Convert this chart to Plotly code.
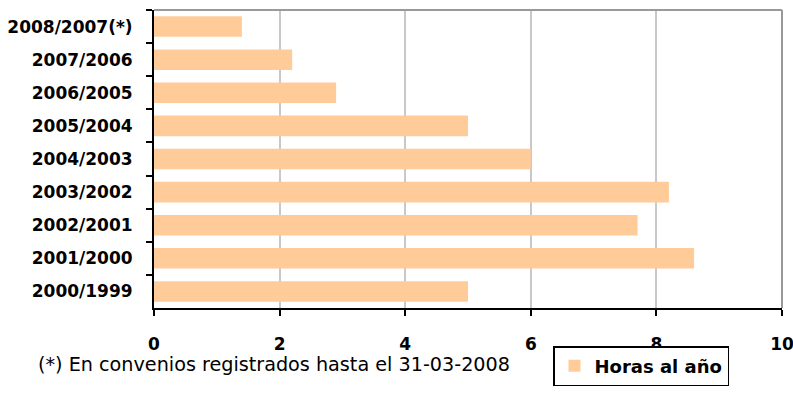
import plotly.graph_objects as go

categories = ["2008/2007(*)", "2007/2006", "2006/2005", "2005/2004", "2004/2003",
              "2003/2002", "2002/2001", "2001/2000", "2000/1999"]
horas = [1.4, 2.2, 2.9, 5.0, 6.0, 8.2, 7.7, 8.6, 5.0]
series_name = "Horas al año"
x_ticks = [0, 2, 4, 6, 8, 10]
footnote = "(*) En convenios registrados hasta el 31-03-2008"

fig = go.Figure()
fig.add_trace(go.Bar(
    y=categories, x=horas, orientation="h", name=series_name,
    marker=dict(color="#FFCC99", line=dict(width=0)),
    showlegend=True,
))

W, H = 793, 406
L, R, T, B = 154, 11, 10, 98
pw = W - L - R
ph = H - T - B

fig.update_layout(
    width=W, height=H,
    margin=dict(l=L, r=R, t=T, b=B, pad=0, autoexpand=False),
    paper_bgcolor="white", plot_bgcolor="white",
    bargap=0.38,
    font=dict(family="DejaVu Sans", color="black"),
    showlegend=True,
    legend=dict(
        x=(553 - L) / pw, y=-(346 - (H - B)) / ph, xanchor="left", yanchor="top",
        bordercolor="black", borderwidth=1.5, bgcolor="white",
        font=dict(family="DejaVu Sans", size=18, color="black", weight="bold"),
        itemwidth=30,
    ),
    xaxis=dict(
        range=[0, 10], tickvals=x_ticks, ticktext=[str(v) for v in x_ticks],
        showgrid=True, gridcolor="#C8C8C8", gridwidth=2,
        showline=True, linecolor="black", linewidth=2,
        ticks="outside", ticklen=6, tickwidth=2, tickcolor="black",
        ticklabelstandoff=14, ticklabeloverflow="allow",
        tickfont=dict(family="DejaVu Sans", size=17, color="black", weight="bold"),
        zeroline=False, fixedrange=True, automargin=False,
    ),
    yaxis=dict(
        type="category", autorange="reversed",
        showgrid=False,
        showline=True, linecolor="black", linewidth=2,
        ticks="outside", ticklen=6, tickwidth=2, tickcolor="black",
        tickson="boundaries", ticklabelstandoff=16,
        tickfont=dict(family="DejaVu Sans", size=17, color="black", weight="bold"),
        fixedrange=True, automargin=False,
    ),
    shapes=[
        dict(type="line", xref="paper", yref="paper", x0=0, x1=1, y0=1, y1=1,
             line=dict(color="#999999", width=2), layer="above"),
        dict(type="line", xref="paper", yref="paper", x0=1, x1=1, y0=0, y1=1,
             line=dict(color="#999999", width=2), layer="above"),
    ],
    annotations=[
        dict(text=footnote, xref="paper", yref="paper",
             x=(36 - L) / pw, y=-(364 - (H - B)) / ph, xanchor="left", yanchor="middle",
             showarrow=False, font=dict(family="DejaVu Sans", size=19.2, color="black")),
    ],
)

fig.write_html(
    "out.html",
    config={"displayModeBar": False},
    post_script="document.body.style.margin='0';document.body.style.padding='0';document.body.style.overflow='hidden';",
)
